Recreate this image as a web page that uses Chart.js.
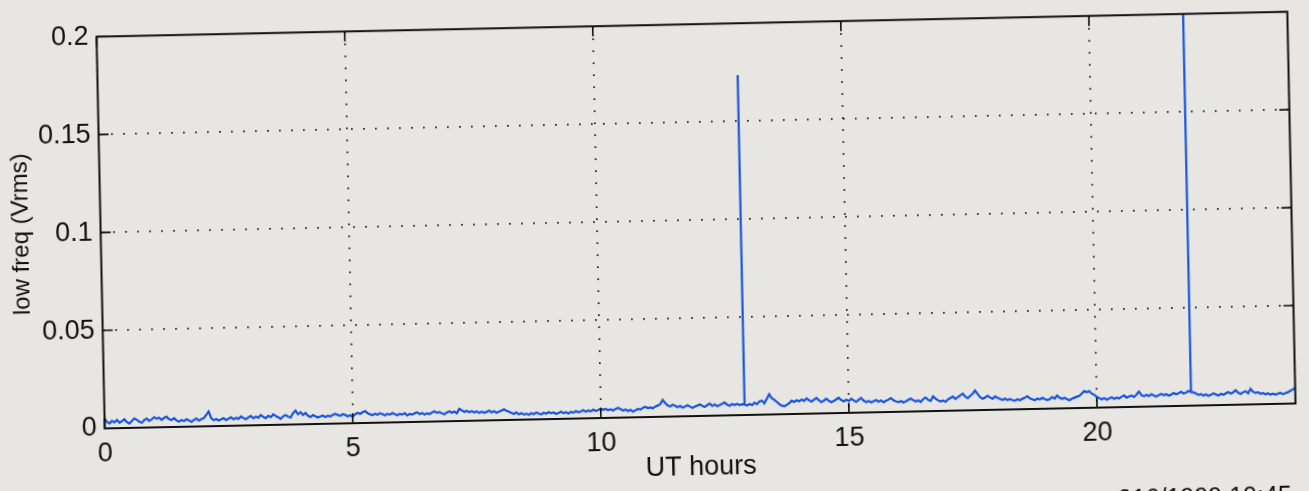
<!DOCTYPE html>
<html>
<head>
<meta charset="utf-8">
<script src="https://cdn.jsdelivr.net/npm/chart.js@4/dist/chart.umd.min.js"></script>
<style>
  html, body { margin: 0; padding: 0; width: 1309px; height: 491px; overflow: hidden; background: #e7e6e3; }
  #wrap {
    position: absolute; left: 0; top: 0; width: 1309px; height: 540px;
    transform-origin: 696px 219px; transform: rotate(-1.2deg);
    background: #e7e6e3;
  }
</style>
</head>
<body>
<div id="wrap"><canvas id="c" width="1309" height="540"></canvas></div>
<script>
// Low-frequency receiver level, one sample every 3 minutes over the UT day.
const sampleStepHours = 0.05;
const lowFreqVrms = [
  0.0050,0.0032,0.0025,0.0038,0.0030,0.0042,0.0028,0.0035,0.0045,0.0030,0.0022,0.0036,0.0048,0.0040,0.0031,0.0026,0.0039,0.0046,0.0034,0.0041,
  0.0052,0.0044,0.0049,0.0038,0.0047,0.0053,0.0041,0.0036,0.0045,0.0033,0.0027,0.0035,0.0029,0.0038,0.0032,0.0025,0.0034,0.0041,0.0030,0.0037,
  0.0042,0.0058,0.0075,0.0040,0.0031,0.0036,0.0028,0.0034,0.0039,0.0030,0.0037,0.0043,0.0033,0.0040,0.0035,0.0046,0.0038,0.0032,0.0041,0.0048,
  0.0036,0.0044,0.0039,0.0051,0.0042,0.0035,0.0047,0.0040,0.0054,0.0045,0.0038,0.0030,0.0043,0.0049,0.0041,0.0036,0.0058,0.0070,0.0052,0.0061,
  0.0048,0.0057,0.0043,0.0036,0.0046,0.0040,0.0033,0.0038,0.0042,0.0035,0.0041,0.0037,0.0045,0.0050,0.0044,0.0039,0.0047,0.0043,0.0036,0.0041,
  0.0034,0.0045,0.0052,0.0047,0.0055,0.0061,0.0050,0.0044,0.0039,0.0046,0.0041,0.0048,0.0043,0.0037,0.0044,0.0040,0.0047,0.0042,0.0036,0.0043,
  0.0039,0.0046,0.0034,0.0041,0.0038,0.0044,0.0049,0.0040,0.0045,0.0037,0.0043,0.0039,0.0046,0.0052,0.0044,0.0048,0.0041,0.0036,0.0045,0.0050,
  0.0043,0.0048,0.0040,0.0062,0.0054,0.0046,0.0051,0.0044,0.0049,0.0042,0.0047,0.0040,0.0045,0.0039,0.0044,0.0050,0.0041,0.0046,0.0038,0.0043,
  0.0049,0.0055,0.0047,0.0042,0.0036,0.0031,0.0038,0.0028,0.0033,0.0026,0.0030,0.0024,0.0032,0.0027,0.0035,0.0029,0.0025,0.0033,0.0028,0.0036,
  0.0030,0.0034,0.0026,0.0031,0.0037,0.0029,0.0033,0.0027,0.0035,0.0030,0.0038,0.0032,0.0036,0.0042,0.0034,0.0040,0.0035,0.0043,0.0037,0.0041,
  0.0048,0.0042,0.0046,0.0039,0.0044,0.0037,0.0045,0.0050,0.0043,0.0036,0.0041,0.0033,0.0038,0.0030,0.0036,0.0042,0.0039,0.0047,0.0052,0.0046,
  0.0049,0.0044,0.0053,0.0058,0.0064,0.0086,0.0070,0.0057,0.0052,0.0060,0.0055,0.0047,0.0053,0.0045,0.0050,0.0056,0.0049,0.0042,0.0048,0.0054,
  0.0059,0.0051,0.0046,0.0055,0.0062,0.0050,0.0057,0.0048,0.0053,0.0060,0.0066,0.0055,0.0049,0.0057,0.0052,0.0058,0.0051,0.0055,0.0054,0.0048,
  0.0056,0.0050,0.0062,0.0054,0.0068,0.0072,0.0058,0.0080,0.0104,0.0083,0.0075,0.0064,0.0052,0.0044,0.0040,0.0047,0.0055,0.0068,0.0061,0.0070,
  0.0064,0.0073,0.0066,0.0078,0.0069,0.0062,0.0071,0.0080,0.0067,0.0058,0.0065,0.0074,0.0063,0.0056,0.0062,0.0070,0.0078,0.0066,0.0059,0.0067,
  0.0060,0.0072,0.0063,0.0055,0.0066,0.0074,0.0061,0.0053,0.0058,0.0051,0.0056,0.0062,0.0054,0.0060,0.0050,0.0057,0.0063,0.0071,0.0060,0.0054,
  0.0049,0.0055,0.0047,0.0052,0.0060,0.0066,0.0058,0.0051,0.0056,0.0048,0.0062,0.0070,0.0058,0.0052,0.0075,0.0063,0.0054,0.0048,0.0053,0.0046,
  0.0058,0.0065,0.0072,0.0060,0.0068,0.0077,0.0086,0.0070,0.0062,0.0074,0.0084,0.0100,0.0082,0.0066,0.0058,0.0064,0.0072,0.0063,0.0057,0.0068,
  0.0061,0.0055,0.0050,0.0056,0.0048,0.0053,0.0047,0.0044,0.0051,0.0046,0.0053,0.0058,0.0066,0.0055,0.0050,0.0045,0.0052,0.0048,0.0056,0.0050,
  0.0044,0.0049,0.0058,0.0051,0.0066,0.0055,0.0048,0.0054,0.0046,0.0041,0.0048,0.0053,0.0058,0.0062,0.0074,0.0086,0.0080,0.0085,0.0072,0.0066,
  0.0055,0.0048,0.0042,0.0047,0.0040,0.0046,0.0051,0.0043,0.0049,0.0045,0.0053,0.0060,0.0048,0.0054,0.0058,0.0050,0.0063,0.0078,0.0059,0.0053,
  0.0060,0.0054,0.0062,0.0056,0.0050,0.0058,0.0063,0.0056,0.0061,0.0054,0.0059,0.0066,0.0060,0.0065,0.0072,0.0063,0.0068,0.0075,0.0070,0.0068,
  0.0061,0.0054,0.0058,0.0050,0.0056,0.0048,0.0053,0.0060,0.0055,0.0049,0.0057,0.0052,0.0059,0.0066,0.0058,0.0064,0.0074,0.0061,0.0055,0.0063,
  0.0068,0.0057,0.0079,0.0064,0.0058,0.0062,0.0053,0.0057,0.0050,0.0055,0.0048,0.0053,0.0047,0.0052,0.0056,0.0049,0.0054,0.0058,0.0065,0.0072,
  0.0080
];

// Short impulsive bursts (much narrower than one sample), time in UT hours.
const burstHours = [12.9, 21.9];
const burstPeakVrms = [0.1735, 0.23];

const xTickValues = [0, 5, 10, 15, 20];
const xTickLabels = ['0', '5', '10', '15', '20'];
const yTickValues = [0, 0.05, 0.1, 0.15, 0.2];
const yTickLabels = ['0', '0.05', '0.1', '0.15', '0.2'];
const xRange = [0, 24];
const yRange = [0, 0.2];
const stampText = '016/1999 10:45';

// Series points; a burst rises and falls back within its own sample time.
const points = [];
lowFreqVrms.forEach((v, i) => {
  const t = +(i * sampleStepHours).toFixed(2);
  points.push({ x: t, y: v });
  const b = burstHours.findIndex(h => Math.abs(h - t) < 1e-6);
  if (b >= 0) {
    points.push({ x: t, y: burstPeakVrms[b] });
    points.push({ x: t, y: v });
  }
});

const FONT = '"Liberation Sans", Arial, Helvetica, sans-serif';
const INK = '#111111';

function labelFor(values, labels) {
  return (v) => {
    const i = values.findIndex(t => Math.abs(t - v) < 1e-9);
    return i >= 0 ? labels[i] : '';
  };
}

// Box around the axes plus inward tick marks on all four sides.
const boxAndTicks = {
  id: 'boxAndTicks',
  afterDatasetsDraw(chart) {
    const { ctx, chartArea: a, scales: { x, y } } = chart;
    const len = 10;
    ctx.save();
    ctx.strokeStyle = INK;
    ctx.lineWidth = 1.6;
    ctx.beginPath();
    xTickValues.forEach(v => {
      const px = x.getPixelForValue(v);
      ctx.moveTo(px, a.bottom); ctx.lineTo(px, a.bottom - len);
      ctx.moveTo(px, a.top); ctx.lineTo(px, a.top + len);
    });
    yTickValues.forEach(v => {
      const py = y.getPixelForValue(v);
      ctx.moveTo(a.left, py); ctx.lineTo(a.left + len, py);
      ctx.moveTo(a.right, py); ctx.lineTo(a.right - len, py);
    });
    ctx.stroke();
    ctx.lineWidth = 2;
    ctx.strokeRect(a.left, a.top, a.right - a.left, a.bottom - a.top);
    ctx.restore();
  }
};

// Print time stamp at the lower right corner of the sheet.
const stamp = {
  id: 'stamp',
  afterDraw(chart) {
    const { ctx } = chart;
    ctx.save();
    ctx.fillStyle = INK;
    ctx.font = '25px ' + FONT;
    ctx.textAlign = 'left';
    ctx.textBaseline = 'alphabetic';
    ctx.fillText(stampText, 1112, 516);
    ctx.restore();
  }
};

const gridColor = (edgeValues) => (c) =>
  edgeValues.some(e => Math.abs(c.tick.value - e) < 1e-9) ? 'rgba(0,0,0,0)' : '#222222';

new Chart(document.getElementById('c'), {
  type: 'line',
  data: {
    datasets: [{
      data: points,
      borderColor: '#1753e0',
      borderWidth: 2.2,
      pointRadius: 0,
      tension: 0,
      fill: false
    }]
  },
  options: {
    responsive: false,
    animation: false,
    layout: { padding: { left: 0, right: 17.5, top: 22, bottom: 49 } },
    plugins: { legend: { display: false }, tooltip: { enabled: false } },
    scales: {
      x: {
        type: 'linear',
        min: xRange[0], max: xRange[1],
        afterFit: (s) => { s.height = 75; },
        afterBuildTicks: (s) => { s.ticks = xTickValues.map(v => ({ value: v })); },
        ticks: {
          includeBounds: false, maxRotation: 0, autoSkip: false,
          color: INK, padding: 9,
          font: { family: FONT, size: 27 },
          callback: labelFor(xTickValues, xTickLabels)
        },
        grid: { drawTicks: false, color: gridColor([xRange[0], xRange[1]]), lineWidth: 1.7 },
        border: { display: false, dash: [1.7, 10.3] },
        title: {
          display: true, text: 'UT hours', color: INK,
          font: { family: FONT, size: 27 }, padding: { top: 0, bottom: 7 }
        }
      },
      y: {
        type: 'linear',
        min: yRange[0], max: yRange[1],
        afterFit: (s) => { s.width = 100.5; },
        afterBuildTicks: (s) => { s.ticks = yTickValues.map(v => ({ value: v })); },
        ticks: {
          color: INK, padding: 8,
          font: { family: FONT, size: 27 },
          callback: labelFor(yTickValues, yTickLabels)
        },
        grid: { drawTicks: false, color: gridColor([yRange[0], yRange[1]]), lineWidth: 1.7 },
        border: { display: false, dash: [1.7, 10.3] },
        title: {
          display: true, text: 'low freq (Vrms)', color: INK,
          font: { family: FONT, size: 24 }, padding: { top: 7, bottom: 0 }
        }
      }
    }
  },
  plugins: [boxAndTicks, stamp]
});
</script>
</body>
</html>
